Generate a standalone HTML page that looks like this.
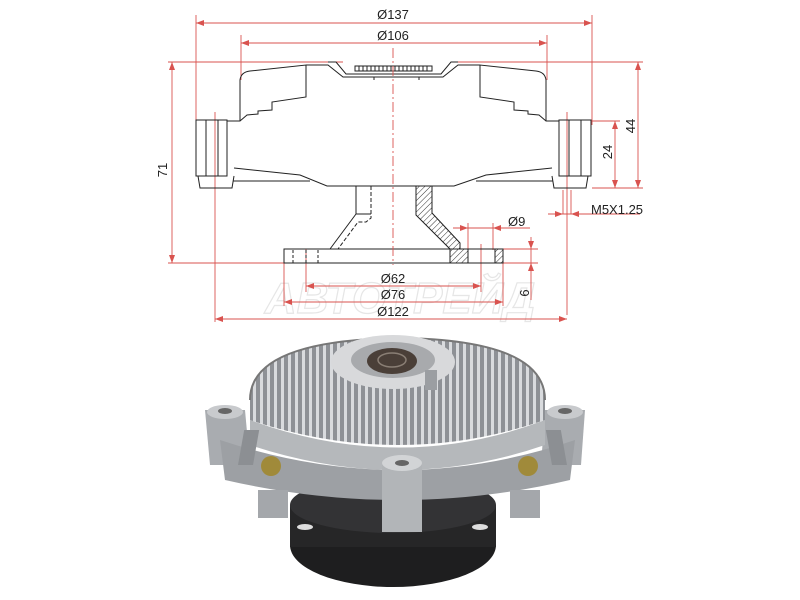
<!DOCTYPE html>
<html><head><meta charset="utf-8"><style>
html,body{margin:0;padding:0;background:#fff;width:800px;height:600px;overflow:hidden}
svg{display:block}
text{font-family:"Liberation Sans",sans-serif;font-size:13px;fill:#222}
</style></head><body>
<svg width="800" height="600" viewBox="0 0 800 600" xmlns="http://www.w3.org/2000/svg">
<defs>
<pattern id="h" width="4" height="4" patternUnits="userSpaceOnUse" patternTransform="rotate(45)"><line x1="0" y1="0" x2="0" y2="4" stroke="#333" stroke-width="1"/></pattern>
<pattern id="fin" width="7" height="10" patternUnits="userSpaceOnUse"><rect width="7" height="10" fill="#8e9196"/><rect x="1" width="3" height="10" fill="#d9dbde"/></pattern>
<radialGradient id="g1" cx="0.5" cy="0.4" r="0.6"><stop offset="0" stop-color="#c9cbcf"/><stop offset="1" stop-color="#8a8d92"/></radialGradient>
</defs>
<!-- watermark -->
<text x="400" y="313" text-anchor="middle" style="font-size:44px;font-style:italic;font-weight:bold;fill:none;stroke:#e6e6e6;stroke-width:1.2">АВТОТРЕЙД</text>
<!-- red dimension lines -->
<g stroke="#d9534f" stroke-width="0.9" fill="none">
<line x1="196" y1="15" x2="196" y2="125"/><line x1="592" y1="15" x2="592" y2="125"/>
<line x1="196" y1="23" x2="592" y2="23"/>
<line x1="241" y1="35" x2="241" y2="80"/><line x1="547" y1="35" x2="547" y2="80"/>
<line x1="241" y1="43" x2="547" y2="43"/>
<line x1="168" y1="62" x2="343" y2="62"/><line x1="453" y1="62" x2="643" y2="62"/>
<line x1="168" y1="263" x2="538" y2="263"/>
<line x1="172" y1="62" x2="172" y2="263"/>
<line x1="638" y1="62" x2="638" y2="188"/><line x1="615" y1="121" x2="615" y2="188"/>
<line x1="592" y1="121" x2="620" y2="121"/><line x1="592" y1="188" x2="643" y2="188"/>
<line x1="567" y1="112" x2="567" y2="315"/><line x1="215" y1="112" x2="215" y2="322"/>
<line x1="548" y1="214" x2="640" y2="214"/><line x1="563" y1="190" x2="563" y2="214"/><line x1="571" y1="190" x2="571" y2="214"/>
<line x1="453" y1="228" x2="530" y2="228"/><line x1="468" y1="223" x2="468" y2="250"/><line x1="493" y1="223" x2="493" y2="250"/>
<line x1="478" y1="249" x2="538" y2="249"/><line x1="531" y1="237" x2="531" y2="300"/>
<line x1="306" y1="249" x2="306" y2="292"/><line x1="481" y1="244" x2="481" y2="292"/>
<line x1="306" y1="286" x2="481" y2="286"/>
<line x1="284" y1="263" x2="284" y2="306"/><line x1="503" y1="263" x2="503" y2="306"/>
<line x1="284" y1="302" x2="503" y2="302"/>
<line x1="215" y1="319" x2="567" y2="319"/>
</g>
<g fill="#d9534f">
<path d="M196 23l8-3v6z"/><path d="M592 23l-8-3v6z"/>
<path d="M241 43l8-3v6z"/><path d="M547 43l-8-3v6z"/>
<path d="M172 62l-3 8h6z"/><path d="M172 263l-3-8h6z"/>
<path d="M638 62l-3 8h6z"/><path d="M638 188l-3-8h6z"/>
<path d="M615 121l-3 8h6z"/><path d="M615 188l-3-8h6z"/>
<path d="M563 214l-8-3v6z"/><path d="M571 214l8-3v6z"/>
<path d="M468 228l-8-3v6z"/><path d="M493 228l8-3v6z"/>
<path d="M531 249l-3-8h6z"/><path d="M531 263l-3 8h6z"/>
<path d="M306 286l8-3v6z"/><path d="M481 286l-8-3v6z"/>
<path d="M284 302l8-3v6z"/><path d="M503 302l-8-3v6z"/>
<path d="M215 319l8-3v6z"/><path d="M567 319l-8-3v6z"/>
</g>
<text x="393" y="19" text-anchor="middle">Ø137</text>
<text x="393" y="40" text-anchor="middle">Ø106</text>
<text x="393" y="283" text-anchor="middle">Ø62</text>
<text x="393" y="299" text-anchor="middle">Ø76</text>
<text x="393" y="316" text-anchor="middle">Ø122</text>
<text x="508" y="226">Ø9</text>
<text x="591" y="214">M5X1.25</text>
<text transform="translate(167,170) rotate(-90)" text-anchor="middle">71</text>
<text transform="translate(635,126) rotate(-90)" text-anchor="middle">44</text>
<text transform="translate(612,152) rotate(-90)" text-anchor="middle">24</text>
<text transform="translate(529,293) rotate(-90)" text-anchor="middle">6</text>
<!-- drawing -->
<g stroke="#222" stroke-width="1" fill="none">
<path d="M240 121V80Q241 72 250 71L306 65V97L272 102V110L258 111V114L247 115L240 121H227"/>
<path d="M546 121V80Q545 72 536 71L480 65V97L514 102V110L528 111V114L539 115L546 121H559"/>
<path d="M306 65H328L343 77H443L458 65H480"/>
<path d="M328 62h8l10 12h95l10-12h7"/>
<rect x="355" y="66" width="77" height="5"/>
<path d="M359 66v5M363 66v5M367 66v5M371 66v5M375 66v5M379 66v5M383 66v5M387 66v5M391 66v5M395 66v5M399 66v5M403 66v5M407 66v5M411 66v5M415 66v5M419 66v5M423 66v5M427 66v5"/>
<path d="M374 77v3M419 77v3"/>
<rect x="196" y="120" width="31" height="56"/><rect x="559" y="120" width="32" height="56"/>
<path d="M206 120v56M218 120v56M569 120v56M581 120v56"/>
<path d="M198 176l2 12h32l2-12M552 176l2 12h32l2-12"/>
<path d="M234 168L300 175L327 186H454L486 175L552 168"/>
<path d="M233 181H310M476 181H553"/>
<path d="M356 186V214L330 249"/>
<path d="M371 186v32l-5 4h-8l-20 27" stroke-dasharray="4,2"/>
<path d="M356 214h15"/>
<rect x="284" y="249" width="219" height="14"/>
<path d="M293 250v13M306 250v13M318 250v13" stroke-dasharray="3,2"/>
<path d="M388 249H344"/>
</g>
<path d="M416 186H432V213L460 243V249H468V263H450V249L416 215Z" fill="url(#h)" stroke="#222"/>
<rect x="495" y="249" width="8" height="14" fill="url(#h)" stroke="#222"/>
<line x1="393" y1="48" x2="393" y2="265" stroke="#d9534f" stroke-width="0.9" stroke-dasharray="10,3,2,3"/>
<!-- photo -->
<ellipse cx="393" cy="545" rx="103" ry="42" fill="#1e1e1f"/>
<rect x="290" y="505" width="206" height="42" fill="#262627"/>
<ellipse cx="393" cy="505" rx="103" ry="28" fill="#333335"/>
<ellipse cx="305" cy="527" rx="8" ry="3" fill="#ddd"/><ellipse cx="480" cy="527" rx="8" ry="3" fill="#ddd"/>
<path d="M205 410h40l5 55h-40z" fill="#a9acb0"/><path d="M545 410h40l-4 55h-40z" fill="#a9acb0"/>
<ellipse cx="225" cy="412" rx="18" ry="7" fill="#c8cacd"/><ellipse cx="565" cy="412" rx="18" ry="7" fill="#c8cacd"/>
<ellipse cx="225" cy="411" rx="7" ry="3" fill="#666"/><ellipse cx="565" cy="411" rx="7" ry="3" fill="#666"/>
<path d="M220 440Q400 500 575 440L570 480Q400 520 225 480Z" fill="#9da0a4"/>
<path d="M250 420Q400 475 545 420L545 445Q400 495 250 445Z" fill="#b5b8bb"/>
<path d="M250 400Q250 340 400 338Q545 340 545 400L545 420Q400 470 250 420Z" fill="url(#fin)"/>
<path d="M250 400Q250 340 400 338Q545 340 545 400" fill="none" stroke="#777" stroke-width="2"/>
<rect x="320" y="430" width="15" height="35" fill="#8c8f93" transform="skewX(-10)"/>
<rect x="470" y="430" width="15" height="35" fill="#8c8f93" transform="skewX(10)"/>
<rect x="382" y="462" width="40" height="70" fill="#b2b5b8"/>
<ellipse cx="402" cy="463" rx="20" ry="8" fill="#d2d4d6"/><ellipse cx="402" cy="463" rx="7" ry="3" fill="#666"/>
<rect x="258" y="490" width="30" height="28" fill="#a4a7ab"/><rect x="510" y="490" width="30" height="28" fill="#a4a7ab"/>
<circle cx="271" cy="466" r="10" fill="#a08a3a"/><circle cx="528" cy="466" r="10" fill="#a08a3a"/>
<ellipse cx="393" cy="362" rx="62" ry="27" fill="#d8d9db"/>
<ellipse cx="393" cy="360" rx="42" ry="18" fill="#a8aaad"/>
<ellipse cx="392" cy="361" rx="25" ry="13" fill="#4a3f38"/>
<ellipse cx="392" cy="360" rx="14" ry="7" fill="none" stroke="#8a7f75" stroke-width="1.5"/>
<rect x="425" y="370" width="12" height="20" fill="#9b9ea2"/>
</svg>
</body></html>
